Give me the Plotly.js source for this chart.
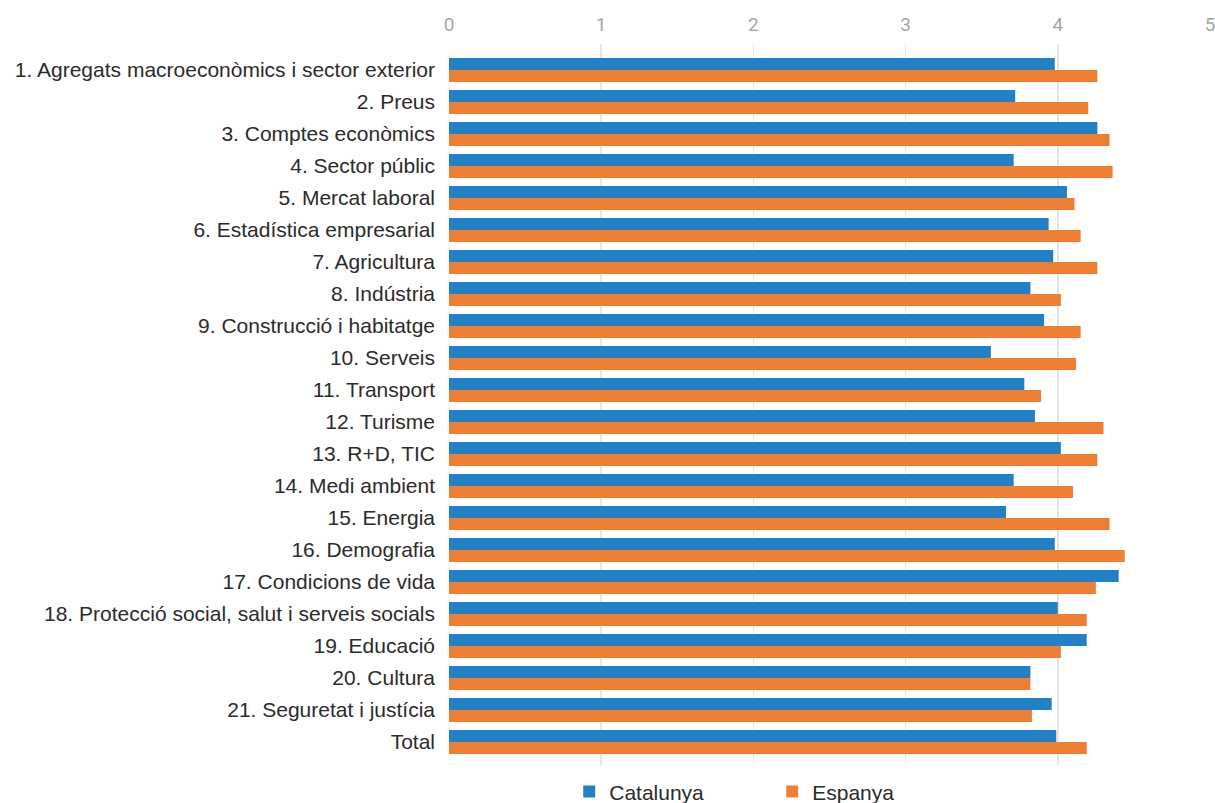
<!DOCTYPE html>
<html>
<head>
<meta charset="utf-8">
<script src="https://cdn.plot.ly/plotly-3.0.1.min.js"></script>
<style>html,body{margin:0;padding:0;background:#fff;}#chart{width:1215px;height:803px;}</style>
</head>
<body>
<div id="chart"></div>
<script>
const categories = [
  "1. Agregats macroeconòmics i sector exterior",
  "2. Preus",
  "3. Comptes econòmics",
  "4. Sector públic",
  "5. Mercat laboral",
  "6. Estadística empresarial",
  "7. Agricultura",
  "8. Indústria",
  "9. Construcció i habitatge",
  "10. Serveis",
  "11. Transport",
  "12. Turisme",
  "13. R+D, TIC",
  "14. Medi ambient",
  "15. Energia",
  "16. Demografia",
  "17. Condicions de vida",
  "18. Protecció social, salut i serveis socials",
  "19. Educació",
  "20. Cultura",
  "21. Seguretat i justícia",
  "Total"
];
const catalunya = [3.98, 3.72, 4.26, 3.71, 4.06, 3.94, 3.97, 3.82, 3.91, 3.56, 3.78, 3.85, 4.02, 3.71, 3.66, 3.98, 4.40, 4.00, 4.19, 3.82, 3.96, 3.99];
const espanya   = [4.26, 4.20, 4.34, 4.36, 4.11, 4.15, 4.26, 4.02, 4.15, 4.12, 3.89, 4.30, 4.26, 4.10, 4.34, 4.44, 4.25, 4.19, 4.02, 3.82, 3.83, 4.19];
const xTicks = [0, 1, 2, 3, 4, 5];

const traces = [
  {type: 'bar', orientation: 'h', name: 'Catalunya', y: categories, x: catalunya,
   marker: {color: '#2280c4'}, hoverinfo: 'x+y'},
  {type: 'bar', orientation: 'h', name: 'Espanya', y: categories, x: espanya,
   marker: {color: '#ee7f32'}, hoverinfo: 'x+y'}
];

const layout = {
  width: 1215, height: 803,
  margin: {l: 449, r: 5, t: 44, b: 38},
  paper_bgcolor: '#fff', plot_bgcolor: '#fff',
  barmode: 'group', bargap: 0.25, bargroupgap: 0,
  font: {family: 'Arial', color: '#333'},
  xaxis: {
    side: 'top', range: [0, 5], tickvals: xTicks, ticktext: xTicks.map(String),
    showgrid: true, gridcolor: '#e6e6e6', gridwidth: 1.5, zeroline: false, showline: false,
    tickfont: {family: 'Roboto', size: 19, color: '#a6a6a6'}, ticks: '', ticklabelstandoff: 8,
    ticklabeloverflow: 'allow', automargin: false, fixedrange: true
  },
  yaxis: {
    type: 'category', range: [21.72, -0.81], showgrid: false, zeroline: false, showline: false,
    ticks: '', ticklabelstandoff: 13, automargin: false,
    tickfont: {family: 'Arial', size: 21, color: '#2b2b2b'}
  },
  showlegend: true,
  legend: {
    orientation: 'h', x: 0.158, xanchor: 'left', yref: 'container', y: 0.014, yanchor: 'middle',
    font: {family: 'Arial', size: 21, color: '#2b2b2b'}, entrywidth: 158, entrywidthmode: 'pixels',
    itemclick: false, itemdoubleclick: false
  }
};

Plotly.newPlot('chart', traces, layout, {displayModeBar: false, staticPlot: true});
</script>
</body>
</html>
